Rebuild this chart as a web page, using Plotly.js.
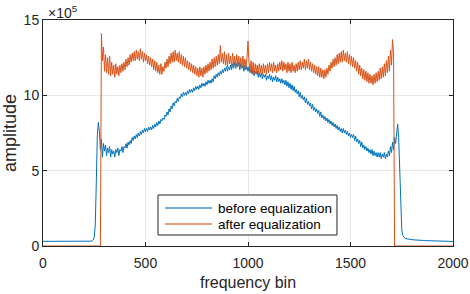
<!DOCTYPE html>
<html>
<head>
<meta charset="utf-8">
<script src="https://cdn.plot.ly/plotly-3.0.1.min.js"></script>
<style>html,body{margin:0;padding:0;background:#fff;}#chart{width:470px;height:294px;}</style>
</head>
<body>
<div id="chart"></div>
<script>
// frequency bins 0..2000, one sample every 5 bins (rows of 20 = 100 bins)
const binStep = 5;
const binCount = 401;
const bins = Array.from({length: binCount}, (_, i) => i * binStep);

// amplitude before equalization (x1e5)
const before = [
0.31,0.31,0.30,0.30,0.30,0.30,0.30,0.29,0.29,0.29,0.29,0.29,0.29,0.29,0.29,0.29,0.29,0.28,0.28,0.28,
0.28,0.28,0.28,0.28,0.28,0.28,0.28,0.28,0.28,0.28,0.28,0.28,0.28,0.28,0.28,0.28,0.28,0.28,0.28,0.29,
0.29,0.29,0.29,0.29,0.30,0.30,0.31,0.32,0.34,0.40,0.6,1.4,4.2,7.4,8.2,7.6,6.4,7.1,5.9,6.8,
6.3,6.7,6.0,6.5,6.2,6.6,5.9,6.4,6.1,6.3,5.9,6.4,6.2,6.5,6.0,6.4,6.3,6.6,6.2,6.6,
6.5,6.8,6.5,6.9,6.7,7.0,6.8,7.2,7.0,7.3,7.1,7.4,7.2,7.5,7.3,7.6,7.4,7.7,7.5,7.8,
7.6,7.8,7.6,7.9,7.7,7.9,7.7,8.0,7.8,8.1,7.9,8.2,8.0,8.3,8.1,8.4,8.3,8.5,8.4,8.7,
8.6,8.9,8.7,9.1,8.9,9.3,9.1,9.5,9.3,9.6,9.5,9.8,9.6,9.9,9.8,10.1,9.9,10.2,10.0,10.2,
10.0,10.3,10.1,10.4,10.2,10.4,10.2,10.5,10.3,10.6,10.4,10.6,10.4,10.7,10.5,10.8,10.6,10.8,10.6,10.9,
10.7,11.0,10.8,11.0,10.8,11.1,10.9,11.3,11.1,11.4,11.2,11.5,11.3,11.6,11.4,11.7,11.5,11.8,11.6,11.9,
11.6,11.9,11.7,12.0,11.7,12.1,11.8,12.2,11.8,12.1,11.9,12.2,11.7,12.1,11.8,12.0,11.6,12.0,11.7,11.9,
11.6,11.9,11.5,11.8,11.4,11.7,11.3,11.6,11.4,11.6,11.2,11.5,11.2,11.5,11.1,11.4,11.2,11.4,11.0,11.3,
11.1,11.4,11.0,11.3,10.9,11.2,11.0,11.3,10.9,11.2,10.9,11.1,10.8,11.1,10.8,11.0,10.7,11.0,10.6,10.9,
10.5,10.8,10.4,10.7,10.3,10.6,10.2,10.4,10.1,10.3,9.9,10.2,9.8,10.0,9.7,9.9,9.5,9.8,9.4,9.6,
9.3,9.5,9.1,9.4,9.0,9.2,8.9,9.1,8.8,9.0,8.6,8.9,8.5,8.7,8.4,8.6,8.3,8.5,8.2,8.4,
8.1,8.3,8.0,8.2,7.9,8.1,7.8,8.0,7.7,7.9,7.6,7.8,7.5,7.8,7.5,7.7,7.4,7.6,7.3,7.5,
7.2,7.4,7.2,7.4,7.0,7.3,6.9,7.1,6.8,7.0,6.6,6.9,6.5,6.7,6.4,6.6,6.3,6.5,6.2,6.4,
6.1,6.4,6.0,6.3,6.0,6.2,5.9,6.2,5.9,6.2,5.8,6.1,5.9,6.2,5.8,6.1,5.9,6.3,6.0,6.6,
6.2,6.9,6.4,7.2,6.8,7.6,8.1,7.2,4.8,2.4,1.1,0.70,0.58,0.52,0.49,0.47,0.45,0.44,0.43,0.42,
0.42,0.41,0.41,0.40,0.40,0.39,0.39,0.38,0.38,0.37,0.37,0.37,0.36,0.36,0.36,0.35,0.35,0.35,0.34,0.34,
0.34,0.34,0.33,0.33,0.33,0.33,0.32,0.32,0.32,0.32,0.32,0.31,0.31,0.31,0.31,0.31,0.31,0.30,0.30,0.30,
0.30];

// amplitude after equalization (x1e5)
const after = [
0,0,0,0,0,0,0,0,0,0,0,0,0,0,0,0,0,0,0,0,
0,0,0,0,0,0,0,0,0,0,0,0,0,0,0,0,0,0,0,0,
0,0,0,0,0,0,0,0,0,0,0,0,0,0,0,0,0,14.1,12.3,13.2,
11.6,12.7,11.5,12.5,11.4,12.6,11.3,12.2,11.4,12.0,11.2,12.1,11.4,11.9,11.3,12.0,11.5,12.1,11.6,12.2,
11.7,12.4,11.9,12.5,12.0,12.7,12.2,12.8,12.3,12.9,12.3,13.0,12.4,12.9,12.3,13.1,12.4,12.9,12.2,12.8,
12.3,12.7,12.1,12.6,12.0,12.5,11.9,12.4,11.7,12.3,11.6,12.2,11.5,12.0,11.4,12.1,11.4,11.9,11.6,12.2,
11.8,12.4,11.9,12.6,12.1,12.8,12.2,12.9,12.2,13.0,12.3,12.8,12.2,12.9,12.1,12.7,12.0,12.6,11.9,12.5,
11.8,12.3,11.7,12.2,11.6,12.1,11.5,12.0,11.4,11.9,11.3,11.8,11.2,11.9,11.3,11.8,11.2,11.9,11.4,12.0,
11.5,12.1,11.6,12.2,11.7,12.4,11.8,12.5,11.9,12.6,12.0,12.7,12.1,13.3,12.2,12.8,12.1,12.9,12.0,12.7,
11.9,12.8,12.1,12.6,11.9,12.8,12.0,12.6,11.8,12.7,12.0,12.6,11.9,12.5,11.8,12.6,11.9,12.4,11.8,12.5,
13.6,12.2,11.6,12.3,11.5,12.2,11.4,12.1,11.5,12.0,11.4,12.1,11.5,12.0,11.4,12.1,11.5,12.0,11.4,12.1,
11.5,12.2,11.6,12.1,11.5,12.2,11.6,12.0,11.5,12.1,11.6,12.2,11.7,12.3,11.6,12.2,11.7,12.1,11.5,12.2,
11.6,12.1,11.5,12.2,11.6,12.0,11.5,12.1,11.6,12.2,11.7,12.3,11.7,12.2,11.8,12.4,11.7,12.3,11.8,12.4,
11.7,12.2,11.6,12.1,11.5,12.0,11.4,11.9,11.3,11.9,11.2,11.8,11.2,11.7,11.1,11.7,11.2,11.8,11.4,12.0,
11.6,12.2,11.8,12.4,11.9,12.5,12.0,12.7,12.1,12.8,12.2,12.9,12.2,13.0,12.3,12.8,12.2,12.9,12.1,12.7,
12.0,12.6,11.9,12.5,11.8,12.3,11.6,12.2,11.4,12.0,11.3,11.8,11.1,11.7,11.0,11.6,10.9,11.5,10.8,11.4,
10.8,11.3,10.7,11.4,10.8,11.5,10.9,11.6,11.0,11.8,11.1,11.9,11.2,12.1,11.3,12.3,11.5,12.6,11.6,13.0,
12.0,13.7,12.8,0,0,0,0,0,0,0,0,0,0,0,0,0,0,0,0,0,
0,0,0,0,0,0,0,0,0,0,0,0,0,0,0,0,0,0,0,0,
0,0,0,0,0,0,0,0,0,0,0,0,0,0,0,0,0,0,0,0,
0];

const seriesNames = ['before equalization', 'after equalization'];
const seriesColors = ['#0072BD', '#D95319'];
const xTicks = [0, 500, 1000, 1500, 2000];
const yTicks = [0, 5, 10, 15];

const FONT = 'Liberation Sans, Arial, Helvetica, sans-serif';
const AX = '#262626';

const traces = [
  {x: bins, y: before, name: seriesNames[0], type: 'scatter', mode: 'lines',
   line: {color: seriesColors[0], width: 1}},
  {x: bins, y: after, name: seriesNames[1], type: 'scatter', mode: 'lines',
   line: {color: seriesColors[1], width: 1}}
];

const axisCommon = {
  showline: true, linecolor: AX, linewidth: 1, mirror: 'ticks',
  ticks: 'inside', ticklen: 4, tickcolor: AX, tickwidth: 1,
  showgrid: true, gridcolor: '#e6e6e6', gridwidth: 1,
  zeroline: false, layer: 'below traces',
  tickfont: {family: FONT, size: 14, color: AX}
};

// legend box (drawn in paper coordinates, MATLAB-style)
const lg = {x0: 0.2805, x1: 0.717, y0: 0.0487, y1: 0.2257,
            lineX0: 0.2976, lineX1: 0.4122, textX: 0.422, rows: [0.1681, 0.0973]};

const shapes = [
  {type: 'rect', xref: 'paper', yref: 'paper', x0: lg.x0, x1: lg.x1, y0: lg.y0, y1: lg.y1,
   fillcolor: '#fff', line: {color: AX, width: 1}, layer: 'above'}
];
const annotations = [{
  xref: 'paper', yref: 'paper', x: 0.007, y: 1.037, xanchor: 'left', yanchor: 'middle',
  text: '×10<sup>5</sup>', showarrow: false, font: {family: FONT, size: 14, color: AX}
}];
seriesNames.forEach((nm, i) => {
  shapes.push({type: 'line', xref: 'paper', yref: 'paper', x0: lg.lineX0, x1: lg.lineX1,
    y0: lg.rows[i], y1: lg.rows[i], line: {color: seriesColors[i], width: 1.5}, opacity: 0.75, layer: 'above'});
  annotations.push({xref: 'paper', yref: 'paper', x: lg.textX, y: lg.rows[i], xanchor: 'left',
    yanchor: 'middle', text: nm, showarrow: false, font: {family: FONT, size: 13.5, color: '#000'}});
});

const layout = {
  width: 470, height: 294,
  margin: {l: 43, r: 17, t: 20, b: 48},
  paper_bgcolor: '#fff', plot_bgcolor: '#fff',
  showlegend: false,
  xaxis: Object.assign({}, axisCommon, {
    range: [0, 2000], tickvals: xTicks, ticktext: xTicks.map(String), ticklabelstandoff: 4,
    title: {text: 'frequency bin', font: {family: FONT, size: 16, color: AX}, standoff: 7}
  }),
  yaxis: Object.assign({}, axisCommon, {
    range: [0, 15], tickvals: yTicks, ticktext: yTicks.map(String),
    title: {text: 'amplitude', font: {family: FONT, size: 18, color: AX}, standoff: 3}
  }),
  shapes: shapes,
  annotations: annotations
};

Plotly.newPlot('chart', traces, layout, {displayModeBar: false, staticPlot: true});
</script>
</body>
</html>
